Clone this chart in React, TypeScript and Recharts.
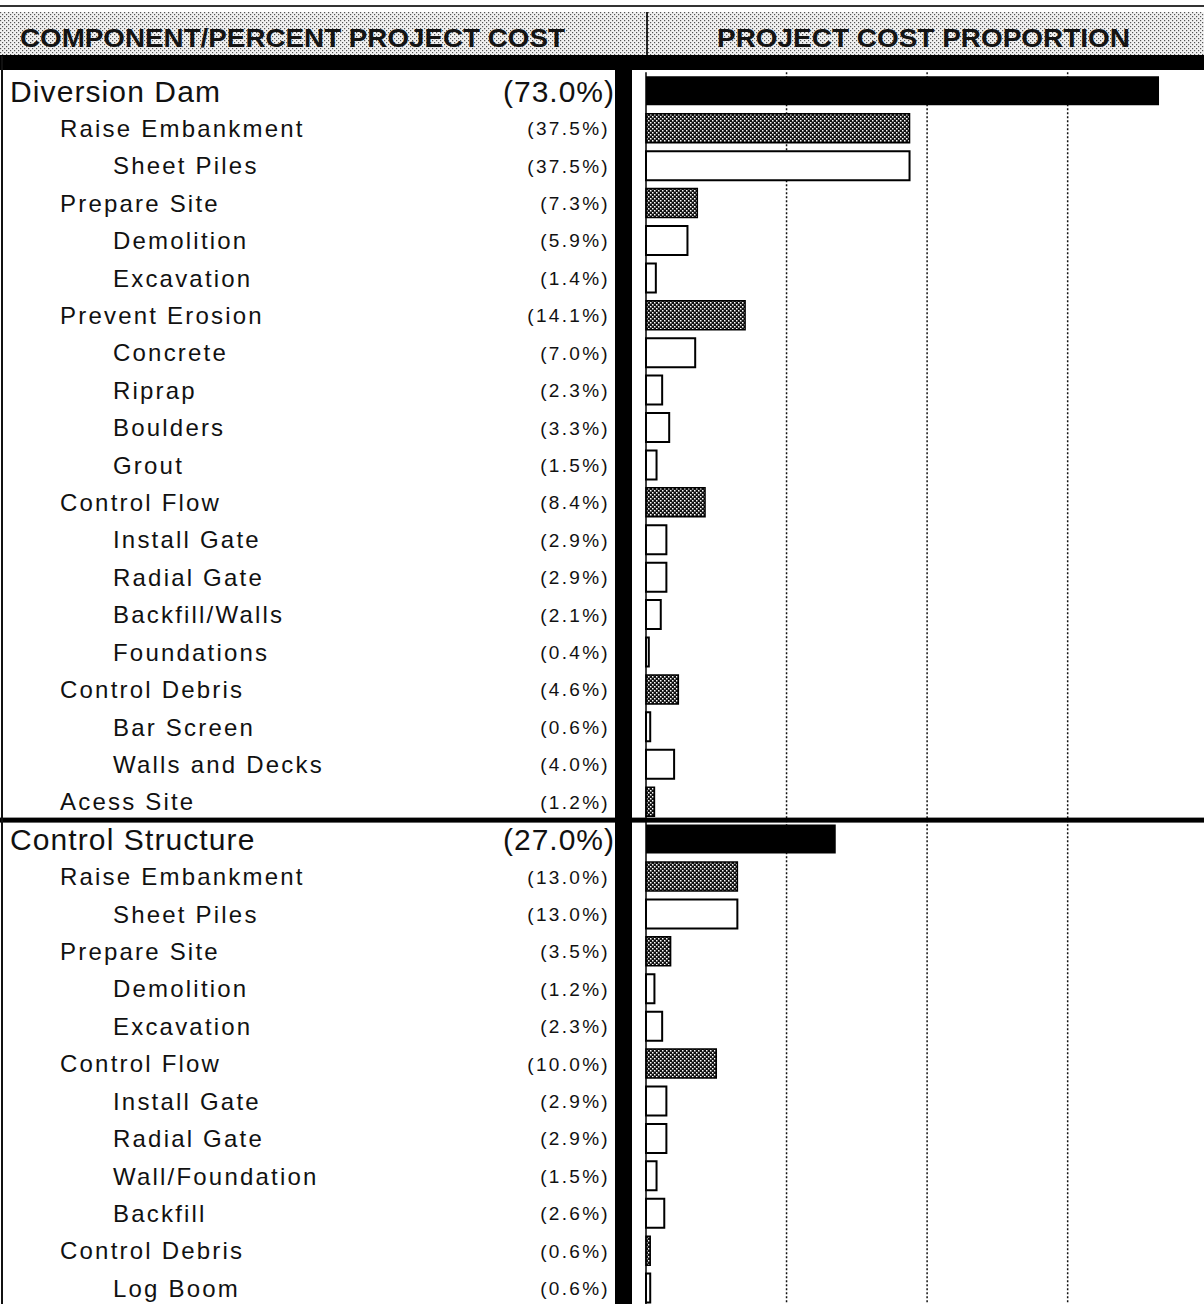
import { BarChart, Bar, XAxis, YAxis, CartesianGrid, Cell } from 'recharts'

// Cost breakdown rows, top to bottom. level 0 = structure, 1 = component, 2 = item
const names = [
  'Diversion Dam', 'Raise Embankment', 'Sheet Piles', 'Prepare Site', 'Demolition', 'Excavation',
  'Prevent Erosion', 'Concrete', 'Riprap', 'Boulders', 'Grout', 'Control Flow', 'Install Gate',
  'Radial Gate', 'Backfill/Walls', 'Foundations', 'Control Debris', 'Bar Screen', 'Walls and Decks',
  'Acess Site',
  'Control Structure', 'Raise Embankment', 'Sheet Piles', 'Prepare Site', 'Demolition', 'Excavation',
  'Control Flow', 'Install Gate', 'Radial Gate', 'Wall/Foundation', 'Backfill', 'Control Debris',
  'Log Boom',
]
const levels = [
  0, 1, 2, 1, 2, 2, 1, 2, 2, 2, 2, 1, 2, 2, 2, 2, 1, 2, 2, 1,
  0, 1, 2, 1, 2, 2, 1, 2, 2, 2, 2, 1, 2,
]
const costs = [
  73.0, 37.5, 37.5, 7.3, 5.9, 1.4, 14.1, 7.0, 2.3, 3.3, 1.5, 8.4, 2.9, 2.9, 2.1, 0.4, 4.6, 0.6, 4.0, 1.2,
  27.0, 13.0, 13.0, 3.5, 1.2, 2.3, 10.0, 2.9, 2.9, 1.5, 2.6, 0.6, 0.6,
]
const gridTicks = [20, 40, 60]

const W = 1204
const H = 1304
// the chart surface runs a little past the page edge on the right and top
const OVER = 8
const PLOT_BOTTOM = 1307
const CHART_W = W + OVER
const CHART_H = PLOT_BOTTOM + OVER
const PLOT_TOP = 72.3
const LABEL_W = 646
const X_MAX = 79.4

const INDENT = [10, 60, 113]
const NAME_SIZE = [30, 24, 24]
const NAME_SPACING = [1.1, 2.2, 2.2]

const rows = names.map((name, i) => ({ row: String(i), name, level: levels[i], cost: costs[i] }))

const rowH = (PLOT_BOTTOM - PLOT_TOP) / rows.length
const splitIndex = levels.indexOf(0, 1)
const splitY = PLOT_TOP + splitIndex * rowH

const pct = (v: number) => `(${v.toFixed(1)}%)`

function barStyle(level: number) {
  if (level === 0) return { fill: '#000', stroke: '#000', strokeWidth: 0 }
  if (level === 1) return { fill: 'url(#checker)', stroke: '#000', strokeWidth: 1.5 }
  return { fill: '#fff', stroke: '#000', strokeWidth: 2 }
}

// dotted guides at 20/40/60 %, placed through the x scale
function gridX({ xAxis, offset }: any) {
  if (xAxis && typeof xAxis.scale === 'function') return gridTicks.map((t) => xAxis.scale(t))
  return gridTicks.map((t) => offset.left + (t / X_MAX) * offset.width)
}

function RowTick(props: any) {
  const { y, payload } = props
  const r = rows[Number(payload.value)]
  if (!r) return null
  const big = r.level === 0
  return (
    <g>
      <text
        x={INDENT[r.level]}
        y={y}
        dy={big ? 10.5 : 8.5}
        fontSize={NAME_SIZE[r.level]}
        letterSpacing={NAME_SPACING[r.level]}
        fill="#111"
      >
        {r.name}
      </text>
      <text
        x={big ? 615 : 610}
        y={y}
        dy={big ? 10.5 : 6.8}
        textAnchor="end"
        fontSize={big ? 30 : 19}
        letterSpacing={big ? 1 : 2.3}
        fill="#111"
      >
        {pct(r.cost)}
      </text>
    </g>
  )
}

export default function App() {
  return (
    <div
      style={{
        position: 'absolute', left: 0, top: 0, width: W, height: H, overflow: 'hidden',
        background: '#fff', fontFamily: "'Liberation Sans', Arial, sans-serif",
      }}
    >
      <svg width={0} height={0} style={{ position: 'absolute' }}>
        <defs>
          <pattern id="checker" width={4} height={4} patternUnits="userSpaceOnUse">
            <rect width={4} height={4} fill="#111" />
            <rect x={0} y={0} width={1.5} height={1.5} fill="#fff" />
            <rect x={2} y={2} width={1.5} height={1.5} fill="#fff" />
          </pattern>
          <pattern id="stipple" width={4} height={4} patternUnits="userSpaceOnUse">
            <rect width={4} height={4} fill="#f2f2f2" />
            <rect x={0} y={0} width={1.2} height={1.2} fill="#555" />
            <rect x={2} y={2} width={1.2} height={1.2} fill="#555" />
          </pattern>
        </defs>
      </svg>

      <div style={{ position: 'absolute', left: 0, top: -OVER }}>
        <BarChart
          width={CHART_W}
          height={CHART_H}
          data={rows}
          layout="vertical"
          margin={{ top: PLOT_TOP + OVER, right: OVER, bottom: 0, left: 0 }}
          barSize={29}
          accessibilityLayer={false}
        >
          <CartesianGrid
            horizontal={false}
            stroke="#111"
            strokeDasharray="2 2"
            strokeWidth={1.5}
            verticalCoordinatesGenerator={gridX}
          />
          <XAxis
            type="number"
            domain={[0, X_MAX]}
            ticks={gridTicks}
            height={0}
            tick={false}
            tickLine={false}
            axisLine={false}
          />
          <YAxis
            type="category"
            dataKey="row"
            width={LABEL_W}
            interval={0}
            tickLine={false}
            axisLine={{ stroke: '#000', strokeWidth: 1.5 }}
            tick={(p: any) => <RowTick {...p} />}
          />
          <Bar dataKey="cost" isAnimationActive={false}>
            {rows.map((r) => (
              <Cell key={r.row} {...barStyle(r.level)} />
            ))}
          </Bar>
        </BarChart>
      </div>

      {/* column headings */}
      <svg width={W} height={72} style={{ position: 'absolute', left: 0, top: 0 }}>
        <rect x={0} y={0} width={W} height={12} fill="#fff" />
        <line x1={0} x2={W} y1={6} y2={6} stroke="#333" strokeWidth={2} />
        <rect x={0} y={12} width={W} height={44} fill="url(#stipple)" />
        <line x1={647} x2={647} y1={12} y2={56} stroke="#222" strokeWidth={2} />
        <text x={20} y={47} textLength={545} lengthAdjust="spacingAndGlyphs" fontSize={25} fontWeight="bold" fill="#141414">
          COMPONENT/PERCENT PROJECT COST
        </text>
        <text x={717} y={47} textLength={413} lengthAdjust="spacingAndGlyphs" fontSize={25} fontWeight="bold" fill="#141414">
          PROJECT COST PROPORTION
        </text>
        <rect x={0} y={55} width={W} height={15} fill="#000" />
      </svg>

      {/* frame: thick divider, section rule, left edge */}
      <svg width={W} height={H} style={{ position: 'absolute', left: 0, top: 0, pointerEvents: 'none' }}>
        <rect x={615} y={70} width={17} height={H - 70} fill="#000" />
        <rect x={0} y={splitY - 3} width={W} height={5} fill="#000" />
        <rect x={1} y={56} width={2} height={H - 56} fill="#111" />
      </svg>
    </div>
  )
}
